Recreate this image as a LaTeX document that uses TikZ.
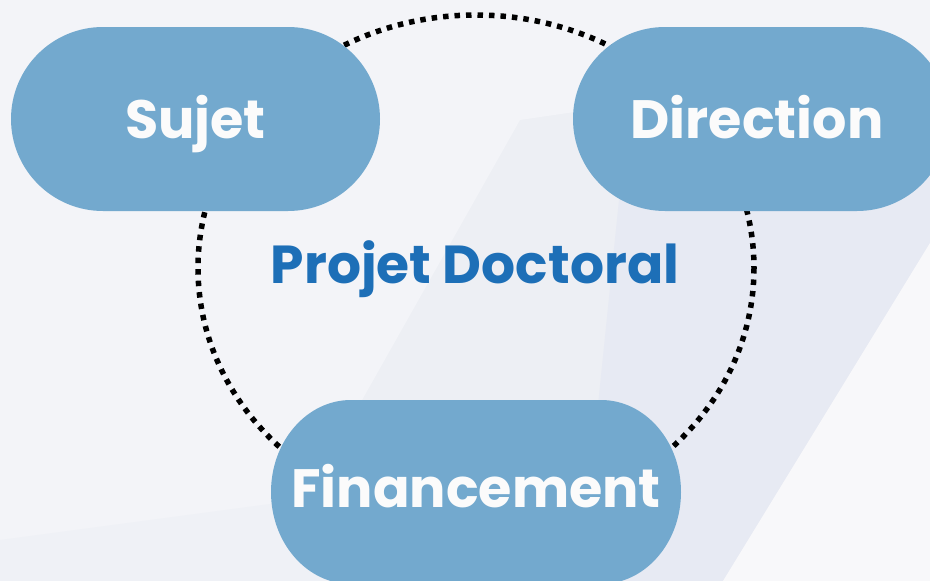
\documentclass[tikz,border=0pt]{standalone}
\usepackage{fontspec}
\newfontfamily\pop{Poppins}
\definecolor{bgbase}{HTML}{EDEFF4}
\definecolor{bglight}{HTML}{F3F4F8}
\definecolor{bgband}{HTML}{E7EAF3}
\definecolor{bgwhite}{HTML}{F8F8FA}
\definecolor{pillblue}{HTML}{73A9CE}
\definecolor{titleblue}{HTML}{1D6FB7}
\definecolor{pilltext}{HTML}{FBFBFB}
\begin{document}
\begin{tikzpicture}[x=1pt,y=-1pt,
  pill/.style={fill=pillblue, rounded corners=92pt, minimum height=184pt, inner sep=0pt,
    text=pilltext, font=\pop\bfseries\fontsize{54}{60}\selectfont, text height=38pt, text depth=0pt},
  pilltextonly/.style={inner sep=0pt, text=pilltext, font=\pop\bfseries\fontsize{54}{60}\selectfont,
    text height=38pt, text depth=0pt},
  titletext/.style={inner sep=0pt, text=titleblue, font=\pop\bfseries\fontsize{53.5}{60}\selectfont,
    text height=38pt, text depth=0pt},
  ring/.style={draw=black, line width=5.5pt, dash pattern=on 5.5pt off 6pt}]
% background
\fill[bgbase] (0,0) rectangle (930,581);
\fill[bglight] (0,0) -- (930,0) -- (930,60) -- (520,120) -- (260,581) -- (0,581) -- cycle;
\fill[bgbase!60!bglight] (0,540) -- (300,500) -- (330,581) -- (0,581) -- cycle;
\fill[bgband] (620,190) -- (930,110) -- (930,243) -- (723,581) -- (580,581) -- cycle;
\fill[bgwhite] (930,243) -- (930,581) -- (723,581) -- cycle;
\useasboundingbox (0,0) rectangle (930,581);
% dotted ring
\draw[ring] (476,268) ellipse [x radius=278, y radius=253];
% pills
\node[pill, minimum width=369pt] (sujet) at (195.5,119) {Sujet};
\node[pill, minimum width=376pt] (direction) at (761,119) {};
\node[pilltextonly] (directiontext) at (757,119) {Direction};
\fill[pillblue] (351,400) -- (601,400) arc[start angle=-90, end angle=90, x radius=80, y radius=92]
  -- (351,584) arc[start angle=90, end angle=270, x radius=80, y radius=92] -- cycle;
\node[pilltextonly] (financement) at (476,488) {Financement};
\node[titletext] (projet) at (475,264) {Projet Doctoral};
\end{tikzpicture}
\end{document}
